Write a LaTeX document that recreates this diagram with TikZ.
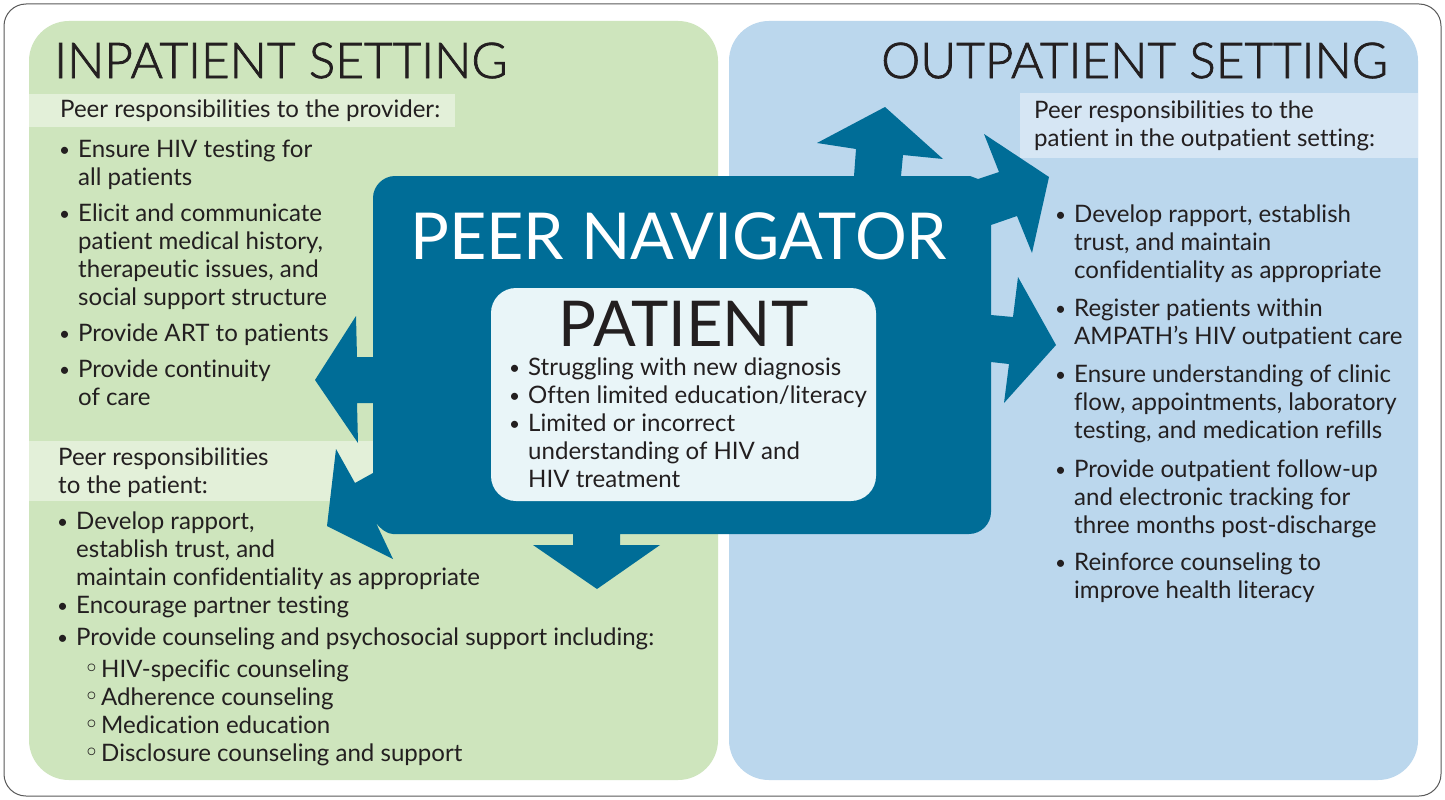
\documentclass[tikz,border=0pt]{standalone}
\usepackage{fontspec}
\setmainfont{Lato}[Ligatures=NoCommon]
\newfontfamily\lightf{Lato Light}[FakeBold=1.5]
\newfontfamily\symb{DejaVu Sans}
\definecolor{greenpanel}{HTML}{CEE5BD}
\definecolor{bluepanel}{HTML}{BBD7ED}
\definecolor{greenband}{HTML}{E3F0D9}
\definecolor{blueband}{HTML}{D6E6F4}
\definecolor{navblue}{HTML}{006D97}
\definecolor{patientfill}{HTML}{E9F5F8}
\definecolor{inkc}{HTML}{231F20}
\newcommand{\bl}{\makebox[0pt][r]{\raisebox{1pt}{\fontsize{19}{28}\selectfont\textbullet}\hspace{8pt}}}
\newcommand{\sbl}{\makebox[0pt][r]{{\symb\fontsize{26}{28}\selectfont ◦}\hspace{2pt}}}
\begin{document}
\begin{tikzpicture}[x=1pt, y=-1pt, every node/.style={inner sep=0pt, anchor=base west, text=inkc},
  txt/.style={align=left, font=\fontsize{24.05}{28}\selectfont},
  title/.style={font=\lightf\fontsize{49.4}{50}\selectfont}]
\useasboundingbox (0,0) rectangle (1445,800);
\draw[fill=white, draw=black!65, line width=1pt, rounded corners=22pt] (4,4) rectangle (1441,796);

% the two settings
\fill[greenpanel, rounded corners=40pt] (29,21) rectangle (718,780);
\fill[bluepanel, rounded corners=40pt] (729,21) rectangle (1418,780);
\fill[greenband] (29,94) rectangle (455,127);
\fill[greenband] (29,441) rectangle (373,501);
\fill[blueband] (1020,93) rectangle (1418,158);

% peer navigator with its arrows
\fill[navblue] (395,176) -- (854,176) -- (856,149) -- (817,143) -- (885,107) -- (943,159)
  -- (903,155) -- (901,176) -- (970,176) -- (978,179) -- (999,172) -- (984,134) -- (1049,177)
  -- (1032,253) -- (1017,216) -- (991,225) -- (991,315) -- (1013,317) -- (1018,277)
  -- (1056,345) -- (1004,403) -- (1009,364) -- (991,362) -- (991,512)
  .. controls (991,524) and (981,534) .. (969,534)
  -- (620,534) -- (620,545) -- (660,545) -- (597,589) -- (533,545) -- (573,545) -- (573,534)
  -- (393,534) .. controls (387,534) and (381,529) .. (376,523) -- (393,559) -- (327,526)
  -- (336,449) -- (355,483) -- (373,473) -- (373,403) -- (357,403) -- (358,443) -- (315,380)
  -- (356,316) -- (357,357) -- (373,357) -- (373,198)
  .. controls (373,186) and (383,176) .. (395,176) -- cycle;
\fill[patientfill, rounded corners=25pt] (491,288) rectangle (876,501);

% headings
\node[title] (inpatient) at (54,78) {INPATIENT SETTING};
\node[title] (outpatient) at (881,78) {OUTPATIENT SETTING};
\node[font=\fontsize{64.7}{66}\selectfont, text=white] (navigator) at (410,259) {PEER NAVIGATOR};
\node[font=\fontsize{63.2}{64}\selectfont] (patient) at (558,346) {PATIENT};

% patient
\node[txt] (P1) at (528,375) {\bl Struggling with new diagnosis};
\node[txt] (P2) at (528,403) {\bl Often limited education/literacy};
\node[txt] (P3) at (528,487) {\bl Limited or incorrect\\understanding of HIV and\\HIV treatment};

% inpatient, provider
\node[txt] (IH1) at (60,117) {Peer responsibilities to the provider:};
\node[txt] (I1) at (78,185) {\bl Ensure HIV testing for\\all patients};
\node[txt] (I2) at (78,305) {\bl Elicit and communicate\\patient medical history,\\therapeutic issues, and\\social support structure};
\node[txt] (I3) at (78,341) {\bl Provide ART to patients};
\node[txt] (I4) at (78,405) {\bl Provide continuity\\of care};

% inpatient, patient
\node[txt] (IH2) at (58,493) {Peer responsibilities\\to the patient:};
\node[txt] (J1) at (76,585) {\bl Develop rapport,\\establish trust, and\\maintain confidentiality as appropriate};
\node[txt] (J2) at (76,613) {\bl Encourage partner testing};
\node[txt] (J3) at (76,645) {\bl Provide counseling and psychosocial support including:};
\node[txt] (S1) at (101,677) {\sbl HIV-specific counseling};
\node[txt] (S2) at (101,705) {\sbl Adherence counseling};
\node[txt] (S3) at (101,733) {\sbl Medication education};
\node[txt] (S4) at (101,761) {\sbl Disclosure counseling and support};

% outpatient
\node[txt] (OH) at (1034,146) {Peer responsibilities to the\\patient in the outpatient setting:};
\node[txt] (O1) at (1074,278) {\bl Develop rapport, establish\\trust, and maintain\\confidentiality as appropriate};
\node[txt] (O2) at (1074,344) {\bl Register patients within\\AMPATH's HIV outpatient care};
\node[txt] (O3) at (1074,438) {\bl Ensure understanding of clinic\\flow, appointments, laboratory\\testing, and medication refills};
\node[txt] (O4) at (1074,533) {\bl Provide outpatient follow-up\\and electronic tracking for\\three months post-discharge};
\node[txt] (O5) at (1074,598) {\bl Reinforce counseling to\\improve health literacy};
\end{tikzpicture}
\end{document}
